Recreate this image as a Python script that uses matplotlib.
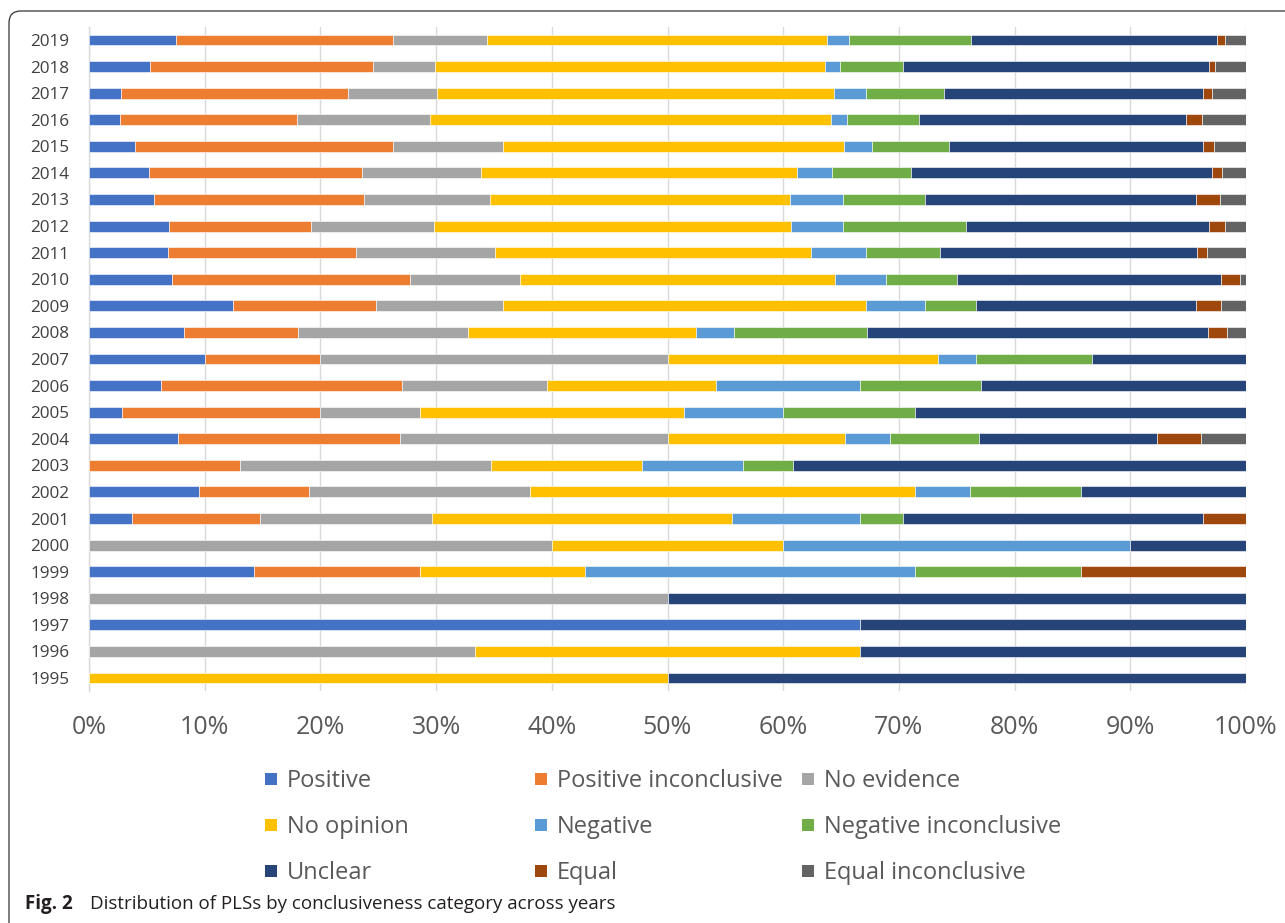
import matplotlib.pyplot as plt
import numpy as np
from matplotlib.patches import Rectangle, FancyBboxPatch
from matplotlib.transforms import IdentityTransform

plt.rcParams['font.family'] = ['Open Sans', 'DejaVu Sans']

years = [str(y) for y in range(1995, 2020)]

categories = ["Positive", "Positive inconclusive", "No evidence",
              "No opinion", "Negative", "Negative inconclusive",
              "Unclear", "Equal", "Equal inconclusive"]

# share of PLSs (%) per year, 1995 -> 2019
positive = [0, 0, 66.67, 0, 14.29, 0, 3.70, 9.52, 0, 7.69, 2.86, 6.25, 10, 8.20, 12.42,
            7.21, 6.80, 6.89, 5.62, 5.16, 3.95, 2.71, 2.74, 5.25, 7.49]
positive_inc = [0, 0, 0, 0, 14.29, 0, 11.11, 9.52, 13.04, 19.23, 17.14, 20.83, 10, 9.84, 12.36,
                20.57, 16.25, 12.27, 18.18, 18.44, 22.30, 15.30, 19.62, 19.33, 18.76]
no_evidence = [0, 33.33, 0, 50, 0, 40, 14.81, 19.05, 21.74, 23.08, 8.57, 12.50, 30, 14.75, 10.98,
               9.45, 12.02, 10.63, 10.84, 10.32, 9.51, 11.44, 7.75, 5.30, 8.12]
no_opinion = [50, 33.33, 0, 0, 14.29, 20, 25.93, 33.33, 13.04, 15.38, 22.86, 14.58, 23.33, 19.67, 31.40,
              27.25, 27.37, 30.86, 25.92, 27.25, 29.50, 34.72, 34.25, 33.71, 29.39]
negative = [0, 0, 0, 0, 28.57, 30, 11.11, 4.76, 8.70, 3.85, 8.57, 12.50, 3.33, 3.28, 5.13,
            4.44, 4.69, 4.53, 4.58, 3.02, 2.42, 1.35, 2.77, 1.29, 1.90]
negative_inc = [0, 0, 0, 0, 14.29, 0, 3.70, 9.52, 4.35, 7.69, 11.43, 10.42, 10, 11.48, 4.38,
                6.11, 6.43, 10.65, 7.12, 6.86, 6.66, 6.22, 6.74, 5.48, 10.61]
unclear = [50, 33.33, 33.33, 50, 0, 10, 25.93, 14.29, 39.13, 15.38, 28.57, 22.92, 13.33, 29.51, 18.98,
           22.78, 22.18, 21.01, 23.39, 25.99, 21.92, 23.05, 22.39, 26.48, 21.26]
equal = [0, 0, 0, 0, 14.29, 0, 3.70, 0, 0, 3.85, 0, 0, 0, 1.64, 2.16,
         1.65, 0.86, 1.32, 2.08, 0.86, 0.95, 1.38, 0.78, 0.46, 0.63]
equal_inc = [0, 0, 0, 0, 0, 0, 0, 0, 0, 3.85, 0, 0, 0, 1.64, 2.19,
             0.54, 3.40, 1.84, 2.27, 2.10, 2.79, 3.83, 2.96, 2.70, 1.84]

colors = ["#4472C4", "#ED7D31", "#A5A5A5", "#FFC000", "#5B9BD5",
          "#70AD47", "#264478", "#9E480E", "#636363"]

W, H = 1285, 923
fig = plt.figure(figsize=(W / 100, H / 100), dpi=100)


def px(x, y):
    return x / W, 1 - y / H


ax = fig.add_axes([89 / W, 1 - 691.3 / H, (1246 - 89) / W, (691.3 - 26.7) / H])

data = np.array([positive, positive_inc, no_evidence, no_opinion, negative,
                 negative_inc, unclear, equal, equal_inc], dtype=float)
data = data / data.sum(axis=0) * 100
ypos = np.arange(len(years))
left = np.zeros(len(years))
for vals, name, c in zip(data, categories, colors):
    ax.barh(ypos, vals, left=left, height=0.41, color=c, label=name,
            edgecolor="white", linewidth=0.4, zorder=3)
    left += vals

ax.set_xlim(0, 100)
ax.set_ylim(-0.5, len(years) - 0.5)
ax.set_xticks(np.arange(0, 101, 10))
ax.set_xticklabels([f"{v}%" for v in range(0, 101, 10)])
ax.set_yticks(ypos)
ax.set_yticklabels(years)
ax.tick_params(axis="x", length=0, pad=17, labelsize=18, labelcolor="#595959")
ax.tick_params(axis="y", length=0, pad=14, labelsize=12.3, labelcolor="#404040")
ax.grid(axis="x", color="#d9d9d9", linewidth=1.0, zorder=0)
for s in ["top", "right", "bottom"]:
    ax.spines[s].set_visible(False)
ax.spines["left"].set_color("#d9d9d9")
ax.spines["left"].set_linewidth(1.0)

# legend laid out in rows like the original
col_x = [265, 535, 802]
row_y = [779, 825, 871]
for i, (name, c) in enumerate(zip(categories, colors)):
    cx = col_x[i % 3]
    cy = row_y[i // 3]
    x0, y0 = px(cx, cy + 6)
    fig.add_artist(Rectangle((x0, y0), 12 / W, 12 / H, transform=fig.transFigure,
                             facecolor=c, edgecolor="none"))
    fx, fy = px(cx + 22, cy + 2)
    fig.text(fx, fy, name, fontsize=17, color="#595959", va="center", ha="left")

# caption
fx, fy = px(25, 904)
fig.text(fx, fy, "Fig. 2", fontsize=13.5, fontweight="bold", color="#231f20",
         va="center", ha="left")
fx, fy = px(90, 904)
fig.text(fx, fy, "Distribution of PLSs by conclusiveness category across years",
         fontsize=13.5, color="#231f20", va="center", ha="left")

# outer frame
frame = FancyBboxPatch((9, -30), 1320, H - 11 + 30,
                       boxstyle="round,pad=0,rounding_size=12",
                       transform=IdentityTransform(), fill=False,
                       edgecolor="#333333", linewidth=0.9)
fig.add_artist(frame)

fig.savefig("out.png", dpi=100)
